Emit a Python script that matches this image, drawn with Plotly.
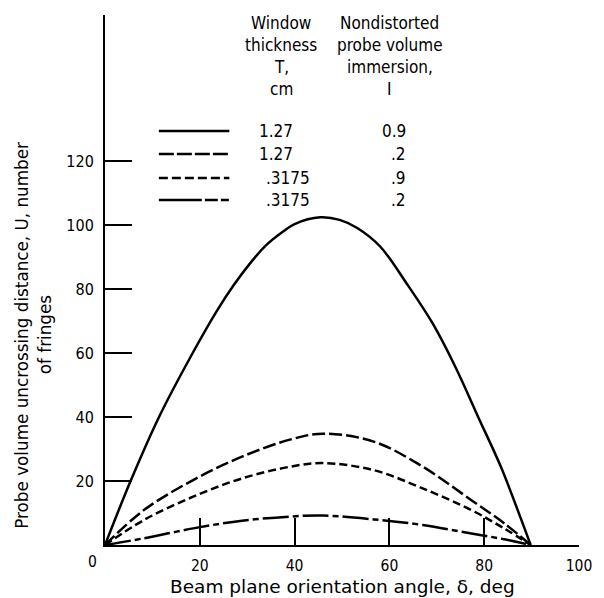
import plotly.graph_objects as go

# ---- data ----
angle_a = [0, 5.4, 11.4, 18.5, 23.7, 27.2, 30.6, 34.0, 37.5, 40.0, 45.4, 49.5, 53.3, 58.1, 63.6, 69.1, 73.9, 78.7, 83.5, 87.6, 89.8]
u_a = [0, 20, 40, 60, 73.4, 81.3, 88, 93.7, 97.9, 100.3, 102.4, 101.6, 99, 93.2, 81.8, 69.3, 55.7, 40.1, 24.5, 8.8, 0]

angle_b = [0, 8.2, 18.6, 28.9, 39.2, 46, 56.7, 67, 77.3, 84.2, 89.8]
u_b = [0, 10.9, 20.3, 27.6, 33, 34.8, 32.3, 24.5, 14, 6.8, 0]
u_c = [0, 7.8, 15.1, 20.8, 24.5, 25.6, 23.4, 17.7, 10.9, 5.2, 0]
u_d = [0, 2.1, 5.2, 7.6, 8.9, 9.2, 8.0, 6.25, 3.6, 1.8, 0]

thickness = ["1.27", "1.27", ".3175", ".3175"]
immersion = ["0.9", ".2", ".9", ".2"]
dashes = ["solid", "13px,4px", "8px,4px", "26px,4px,6px,4px"]
legend_dashes = ["solid", "15px,3px", "9px,4px", "43px,3px,13px,3px,8px,60px"]

x_ticks = [20, 40, 60, 80, 100]
y_ticks = [20, 40, 60, 80, 100, 120]

FONT = "DejaVu Sans Condensed, Liberation Sans Narrow, DejaVu Sans, sans-serif"
TITLE_FONT = "DejaVu Sans, sans-serif"
W, H = 604, 598
L, R, T, B = 105, 15, 15, 53
PW, PH = W - L - R, H - T - B


def px(xp):
    return (xp - L) / PW


def py(yp):
    return (H - B - yp) / PH


fig = go.Figure()
series = [(angle_a, u_a), (angle_b, u_b), (angle_b, u_c), (angle_b, u_d)]
for (xs, ys), d in zip(series, dashes):
    fig.add_trace(go.Scatter(x=xs, y=ys, mode="lines",
                             line=dict(color="black", width=2.5, dash=d, shape="spline", smoothing=1.0),
                             showlegend=False, hoverinfo="skip"))

ann = []
# headers
for i, t in enumerate(["Window", "thickness", "T,", "cm"]):
    ann.append(dict(x=px(285), y=py(23 + i * 22), text=t, xanchor="center", yanchor="middle"))
for i, t in enumerate(["Nondistorted", "probe volume", "immersion,", "I"]):
    ann.append(dict(x=px(396), y=py(23 + i * 22), text=t, xanchor="center", yanchor="middle"))

rows_y = [131, 154, 178, 200]
shapes = []
for yy, th, im, d in zip(rows_y, thickness, immersion, legend_dashes):
    shapes.append(dict(type="line", xref="paper", yref="paper",
                       x0=px(160), x1=px(232), y0=py(yy), y1=py(yy),
                       line=dict(color="black", width=2.5, dash=d)))
    xl = 260 if th.startswith("1") else 267
    ann.append(dict(x=px(xl), y=py(yy), text=th, xanchor="left", yanchor="middle"))
    ann.append(dict(x=px(414), y=py(yy), text=im, xanchor="right", yanchor="middle"))

# origin label, axis titles
ann.append(dict(x=px(92), y=py(562), text="0", xanchor="center", yanchor="middle", font=dict(size=15.5)))
ann.append(dict(x=px(348), y=py(586), text="Beam plane orientation angle, δ, deg",
                xanchor="center", yanchor="middle", font=dict(family=TITLE_FONT, size=18.5)))
ann.append(dict(x=px(20), y=py(335), text="Probe volume uncrossing distance, U, number",
                textangle=-90, xanchor="center", yanchor="middle", font=dict(family=TITLE_FONT, size=16.8)))
ann.append(dict(x=px(44), y=py(335), text="of fringes",
                textangle=-90, xanchor="center", yanchor="middle", font=dict(family=TITLE_FONT, size=16.8)))

for a in ann:
    a.update(xref="paper", yref="paper", showarrow=False)
    a.setdefault("font", dict(size=17))

fig.update_layout(
    width=W, height=H,
    margin=dict(l=L, r=R, t=T, b=B),
    paper_bgcolor="white", plot_bgcolor="white",
    font=dict(family=FONT, color="black", size=17),
    annotations=ann, shapes=shapes,
    xaxis=dict(range=[0, 100], tickvals=x_ticks, ticks="inside", ticklen=27, tickwidth=2,
               tickcolor="black", showline=True, linecolor="black", linewidth=2,
               showgrid=False, zeroline=False, tickfont=dict(size=15.5), ticklabelstandoff=5),
    yaxis=dict(range=[0, PH / 3.2], tickvals=y_ticks, ticks="inside", ticklen=27, tickwidth=2,
               tickcolor="black", showline=True, linecolor="black", linewidth=2,
               showgrid=False, zeroline=False, tickfont=dict(size=16), ticklabelstandoff=6),
)

fig.write_html("out.html")
